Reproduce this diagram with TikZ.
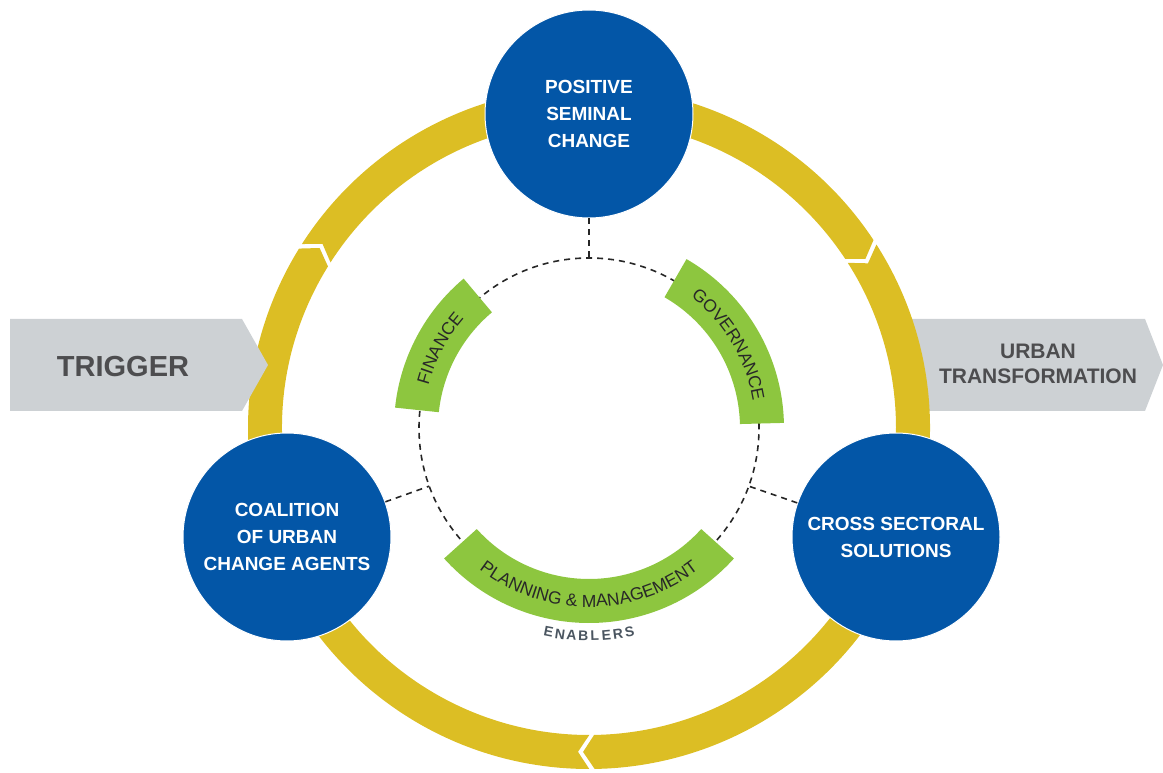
\documentclass[tikz,border=0pt]{standalone}
\usepackage{fontspec}
\setmainfont{Liberation Sans}
\definecolor{ringyellow}{RGB}{220,190,36}
\definecolor{hubblue}{RGB}{3,86,167}
\definecolor{enablergreen}{RGB}{141,198,63}
\definecolor{bannergray}{RGB}{205,209,212}
\definecolor{bannertext}{RGB}{77,77,79}
\definecolor{arctext}{RGB}{40,40,40}
\definecolor{enablertext}{RGB}{74,85,96}
\usetikzlibrary{calc, decorations.text}
\tikzset{
    hub/.style={
           circle,
           fill=hubblue, draw=white, line width=1pt,
           minimum size=208pt,
           inner sep=0pt,
           text=white, align=center,
           font=\fontsize{19}{27}\selectfont\bfseries,
           },
    bannerlbl/.style={text=bannertext, align=center, inner sep=0pt},
    linkline/.style={draw=black!85, line width=1.6pt, dash pattern=on 6pt off 5pt},
    enabler/.style={fill=enablergreen},
    arclbl/.style={decorate, decoration={text along path, text align=center,
           text color=arctext}},
    enablerlbl/.style={text=enablertext, inner sep=0pt,
           font=\fontsize{14}{14}\selectfont\bfseries},
}
\newcommand{\arcfont}{\fontsize{17.5}{20}\selectfont}
% one piece of the ring: tail notch at #1, arrow point at #2 (clockwise)
\newcommand{\RingArrow}[2]{%
  \fill[ringyellow] ({#1-0.45+1}:341pt)
      arc[start angle={#1-0.45+1}, end angle={#2+0.45+1}, radius=341pt]
      -- ({#2+0.45-1}:324pt) -- ({#2+0.45+1}:307pt)
      arc[start angle={#2+0.45+1}, end angle={#1-0.45+1}, radius=307pt]
      -- ({#1-0.45-1}:324pt) -- cycle;}

\begin{document}
\begin{tikzpicture}[x=1pt, y=1pt]
  \useasboundingbox (0,0) rectangle (1163,772);
  \coordinate (o) at (589,344);

  % banners and ring
  \fill[bannergray] (900,453) -- (1145,453) -- (1163,407) -- (1145,361) -- (900,361) -- cycle;
  \begin{scope}[shift={(o)}]
    \RingArrow{146.8}{32}
    \RingArrow{32}{-90.5}
    \RingArrow{269.5}{146.8}
  \end{scope}
  \fill[bannergray] (10,453) -- (242,453) -- (268,407) -- (242,361) -- (10,361) -- cycle;
  \node[bannerlbl, font=\fontsize{29}{30}\selectfont\bfseries] (trig) at (123,405) {TRIGGER};
  \node[bannerlbl, font=\fontsize{21}{25}\selectfont\bfseries] (utrans) at (1038,408) {URBAN\\TRANSFORMATION};

  % enablers
  \draw[linkline] (o) circle[radius=170pt];
  \begin{scope}[shift={(o)}]
    \fill[enabler] (174:195pt) arc[start angle=174, end angle=130, radius=195pt]
        -- (130:151pt) arc[start angle=130, end angle=174, radius=151pt] -- cycle;
    \fill[enabler] (60:195pt) arc[start angle=60, end angle=1.5, radius=195pt]
        -- (1.5:151pt) arc[start angle=1.5, end angle=60, radius=151pt] -- cycle;
    \fill[enabler] (222:195pt) arc[start angle=222, end angle=318, radius=195pt]
        -- (318:151pt) arc[start angle=318, end angle=222, radius=151pt] -- cycle;
    \path[arclbl, decoration={text={|\arcfont|FINANCE}}]
        (174:166pt) arc[start angle=174, end angle=130, radius=166pt];
    \path[arclbl, decoration={text={|\arcfont|GOVERNANCE}}]
        (60:166pt) arc[start angle=60, end angle=1.5, radius=166pt];
    \path[arclbl, decoration={text={|\arcfont|PLANNING {\&} MANAGEMENT}}]
        (222:179pt) arc[start angle=222, end angle=318, radius=179pt];
    \foreach \ch [count=\i] in {E,N,A,B,L,E,R,S}{
      \pgfmathsetmacro{\ang}{258.8+3.2*(\i-1)}
      \node[enablerlbl, rotate=\ang-270] (en\i) at (\ang:208pt) {\ch};
    }
  \end{scope}

  \coordinate (d1) at ($(o)+(90:170)$);
  \coordinate (d2) at ($(o)+(200:170)$);
  \coordinate (d3) at ($(o)+(340:170)$);

  % hubs
  \node[hub] (psc) at (589,658) {POSITIVE\\SEMINAL\\CHANGE};
  \node[hub] (cuca) at (287,235) {COALITION\\OF URBAN\\CHANGE AGENTS};
  \node[hub] (css) at (896,235) {CROSS SECTORAL\\SOLUTIONS};

  \draw[linkline] (psc) -- (d1);
  \draw[linkline] (cuca) -- (d2);
  \draw[linkline] (css) -- (d3);
\end{tikzpicture}
\end{document}
